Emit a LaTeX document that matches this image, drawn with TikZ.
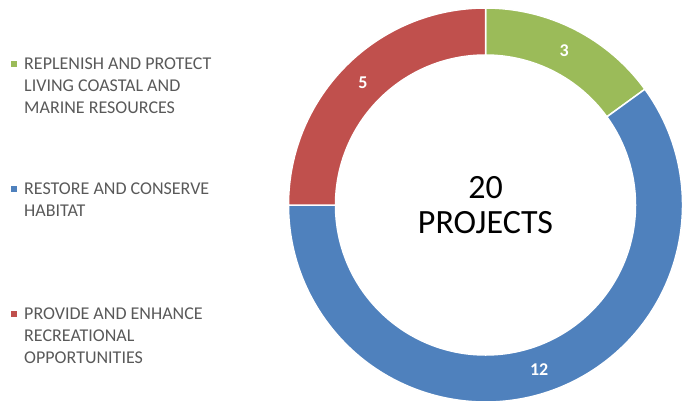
\documentclass[tikz,border=0pt]{standalone}
\usepackage{fontspec}
\setmainfont{Carlito}
\usepackage{tikz}
\usetikzlibrary{positioning}
\definecolor{ringgreen}{HTML}{9BBB59}
\definecolor{ringblue}{HTML}{4F81BD}
\definecolor{ringred}{HTML}{C0504D}
\definecolor{legendgrey}{HTML}{595959}
\tikzstyle{slice} = [draw=white, line width=1.5pt]
\tikzstyle{value} = [text=white, inner sep=0pt, font=\fontsize{18}{20}\selectfont\bfseries]
\tikzstyle{key} = [rectangle, minimum size=6pt, inner sep=0pt]
\tikzstyle{legend} = [anchor=west, align=left, inner sep=0pt, text=legendgrey, font=\fontsize{18}{22}\selectfont]
\tikzstyle{total} = [align=center, inner sep=0pt, font=\fontsize{34}{35}\selectfont]

\begin{document}
\begin{tikzpicture}[x=1pt, y=1pt]
            \useasboundingbox (0,0) rectangle (684,400);
            \coordinate (c) at (485.5,195);
            % ring
            \path [slice, fill=ringgreen] ([shift={(90:197)}]c) arc[start angle=90, end angle=36, radius=197pt] -- ([shift={(36:150)}]c) arc[start angle=36, end angle=90, radius=150pt] -- cycle;
            \path [slice, fill=ringblue] ([shift={(36:197)}]c) arc[start angle=36, end angle=-180, radius=197pt] -- ([shift={(180:150)}]c) arc[start angle=-180, end angle=36, radius=150pt] -- cycle;
            \path [slice, fill=ringred] ([shift={(180:197)}]c) arc[start angle=180, end angle=90, radius=197pt] -- ([shift={(90:150)}]c) arc[start angle=90, end angle=180, radius=150pt] -- cycle;
            \node (three) [value] at ([shift={(63:173.5)}]c) {3};
            \node (twelve) [value] at ([shift={(-72:173.5)}]c) {12};
            \node (five) [value] at ([shift={(135:173.5)}]c) {5};
            \node (total) [total] at (c) {20\\PROJECTS};
            % legend
            \node (keygreen) [key, fill=ringgreen] at (14,336) {};
            \node (replenish) [legend] at (24,314) {REPLENISH AND PROTECT\\LIVING COASTAL AND\\MARINE RESOURCES};
            \node (keyblue) [key, fill=ringblue] at (14,211) {};
            \node (restore) [legend] at (24,200.5) {RESTORE AND CONSERVE\\HABITAT};
            \node (keyred) [key, fill=ringred] at (14,86) {};
            \node (provide) [legend] at (24,64.5) {PROVIDE AND ENHANCE\\RECREATIONAL\\OPPORTUNITIES};
\end{tikzpicture}
\end{document}
